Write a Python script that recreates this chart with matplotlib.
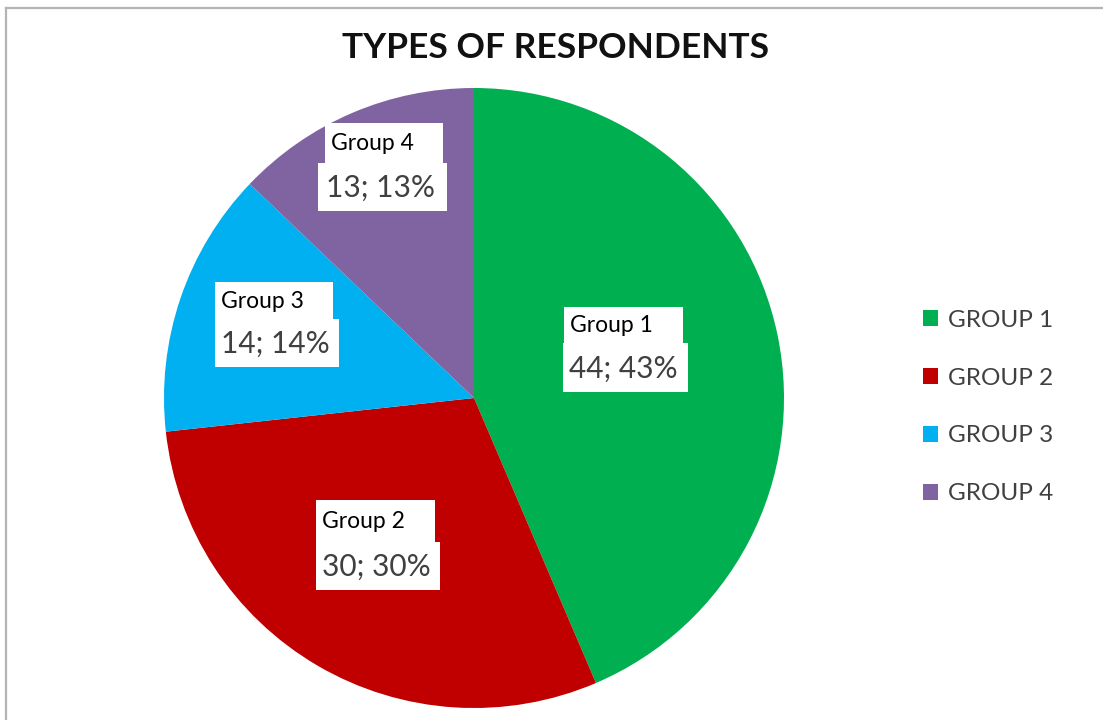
import matplotlib.pyplot as plt
from matplotlib.patches import Rectangle
from matplotlib.lines import Line2D

plt.rcParams['font.family'] = ['Lato', 'DejaVu Sans']

# data
groups = ['Group 1', 'Group 2', 'Group 3', 'Group 4']
legend_labels = ['GROUP 1', 'GROUP 2', 'GROUP 3', 'GROUP 4']
counts = [44, 30, 14, 13]
percents = [43, 30, 14, 13]
colors = ['#00B050', '#C00000', '#00B0F0', '#8064A2']

# label box layout (pixel coords): name box, value box as (x0, y0, x1, y1)
label_boxes = [
    ((564, 307, 683, 343), (563, 343, 688, 392)),
    ((316, 500, 435, 542), (316, 542, 440, 590)),
    ((215, 282, 333, 319), (215, 319, 339, 367)),
    ((325, 123, 443, 163), (318, 163, 447, 211)),
]

W, H = 1103, 720
fig = plt.figure(figsize=(W / 100, H / 100), dpi=100)
ax = fig.add_axes([0, 0, 1, 1])

# y axis is flipped below, so counterclock=True runs clockwise on screen
wedges, _ = ax.pie(counts, colors=colors, center=(474, 398), radius=310,
                   startangle=-90, counterclock=True,
                   wedgeprops=dict(linewidth=0))
ax.set_xlim(0, W)
ax.set_ylim(H, 0)
ax.set_aspect('auto')
ax.axis('off')

# chart frame (top and left edges visible)
ax.add_line(Line2D([5.5, W], [7.5, 7.5], color='#b4b4b4', lw=1.6))
ax.add_line(Line2D([5.5, 5.5], [7.5, H], color='#b4b4b4', lw=1.6))

ax.text(556, 48, 'TYPES OF RESPONDENTS', ha='center', va='center',
        fontsize=25.5, fontweight='bold', color='#111111')

for name, n, p, (nb, vb) in zip(groups, counts, percents, label_boxes):
    for (x0, y0, x1, y1) in (nb, vb):
        ax.add_patch(Rectangle((x0, y0), x1 - x0, y1 - y0,
                               facecolor='white', edgecolor='none', zorder=3))
    ax.text(nb[0] + 6, (nb[1] + nb[3]) / 2 + 1, name, ha='left', va='center',
            fontsize=16.5, color='black', zorder=4)
    ax.text((vb[0] + vb[2]) / 2 - 2, (vb[1] + vb[3]) / 2 + 1, f'{n}; {p}%',
            ha='center', va='center', fontsize=21.5, color='#404040', zorder=4)

ax.legend(wedges, legend_labels, loc='center left',
          bbox_to_anchor=(901 / W, 1 - 407 / H), frameon=False,
          fontsize=17.5, handlelength=0.62, handleheight=0.62, handletextpad=0.42,
          labelspacing=1.52, labelcolor='#404040')

fig.savefig('out.png', dpi=100)
